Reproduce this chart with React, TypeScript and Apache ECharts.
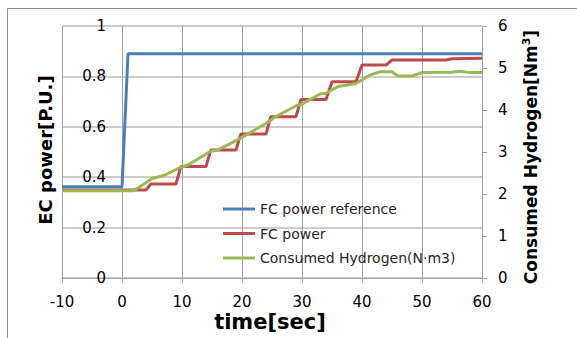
import React, { useEffect, useRef } from "react";
import * as echarts from "echarts";

// Time axis ticks
const xTicks = [-10, 0, 10, 20, 30, 40, 50, 60];

// FC power reference (left axis, P.U.)
const refTime = [-10, 0, 1, 60];
const refPower = [0.362, 0.362, 0.89, 0.89];

// FC power (left axis, P.U.)
const fcTime = [-10, 4, 4.8, 9, 9.8, 14, 14.8, 19, 19.8, 24, 24.8, 29, 29.8, 34, 35, 39, 40, 44, 45, 54, 55, 60];
const fcPower = [0.349, 0.349, 0.373, 0.373, 0.442, 0.442, 0.508, 0.508, 0.571, 0.571, 0.64, 0.64, 0.708, 0.708, 0.779, 0.779, 0.845, 0.845, 0.865, 0.865, 0.87, 0.872];

// Consumed hydrogen (right axis, Nm3)
const h2Time = [-10, 2, 5, 7, 10, 11, 14.7, 16, 19.4, 24, 25.5, 29, 30, 33, 34, 36, 39, 41.3, 43, 45, 46, 48.3, 50, 55, 56.3, 58, 60];
const h2Vol = [2.08, 2.08, 2.37, 2.44, 2.65, 2.69, 3.01, 3.05, 3.3, 3.68, 3.83, 4.1, 4.14, 4.38, 4.4, 4.56, 4.63, 4.83, 4.91, 4.91, 4.81, 4.81, 4.89, 4.9, 4.92, 4.89, 4.89];

const seriesNames = ["FC power reference", "FC power", "Consumed Hydrogen(N\u00b7m3)"];
const colors = ["#4A7EBB", "#BE4B48", "#98B954"];

const zip = (a: number[], b: number[]) => a.map((t, i) => [t, b[i]]);

export default function App() {
  const ref = useRef<HTMLDivElement>(null);
  useEffect(() => {
    if (!ref.current) return;
    const chart = echarts.init(ref.current, null, { renderer: "svg" });
    const font = "'DejaVu Sans', Verdana, sans-serif";
    const vGrid = { show: true, lineStyle: { color: "#A0A0A0", width: 1 } };
    const hGrid = { show: true, lineStyle: { color: "#CDCDCD", width: 2 } };
    chart.setOption({
      animation: false,
      backgroundColor: "#fff",
      textStyle: { fontFamily: font },
      grid: { left: 62, right: 95, top: 26, bottom: 60 },
      legend: {
        orient: "vertical",
        left: 223,
        top: 202,
        padding: 0,
        itemWidth: 32,
        itemHeight: 3,
        itemGap: 10.5,
        icon: "rect",
        textStyle: { fontFamily: font, fontSize: 14, color: "#262626" },
        data: seriesNames,
      },
      xAxis: {
        type: "value",
        min: -10,
        max: 60,
        interval: 10,
        axisLine: { show: true, onZero: false, lineStyle: { color: "#A0A0A0" } },
        axisTick: { show: true, length: 5, lineStyle: { color: "#A0A0A0" } },
        axisLabel: { fontFamily: font, fontSize: 15, color: "#000", margin: 16, customValues: xTicks },
        splitLine: vGrid,
      },
      yAxis: [
        {
          type: "value",
          min: 0,
          max: 1,
          interval: 0.2,
          offset: -60,
          axisLine: { show: true, onZero: false, lineStyle: { color: "#A0A0A0" } },
          axisTick: { show: false },
          axisLabel: { fontFamily: font, fontSize: 15, color: "#000", margin: 16 },
          splitLine: hGrid,
        },
        {
          type: "value",
          min: 0,
          max: 6,
          interval: 1,
          position: "right",
          axisLine: { show: true, onZero: false, lineStyle: { color: "#A0A0A0" } },
          axisTick: { show: true, length: 5, lineStyle: { color: "#A0A0A0" } },
          axisLabel: { fontFamily: font, fontSize: 15, color: "#000", margin: 16 },
          splitLine: { show: false },
        },
      ],
      series: [
        {
          name: seriesNames[0],
          type: "line",
          yAxisIndex: 0,
          showSymbol: false,
          symbol: "none",
          data: zip(refTime, refPower),
          lineStyle: { color: colors[0], width: 3 },
          itemStyle: { color: colors[0] },
        },
        {
          name: seriesNames[1],
          type: "line",
          yAxisIndex: 0,
          showSymbol: false,
          symbol: "none",
          data: zip(fcTime, fcPower),
          lineStyle: { color: colors[1], width: 3 },
          itemStyle: { color: colors[1] },
        },
        {
          name: seriesNames[2],
          type: "line",
          yAxisIndex: 1,
          showSymbol: false,
          symbol: "none",
          data: zip(h2Time, h2Vol),
          lineStyle: { color: colors[2], width: 3 },
          itemStyle: { color: colors[2] },
        },
      ],
      graphic: [
        {
          type: "rect",
          silent: true,
          shape: { x: 7.5, y: 8.5, width: 600, height: 400 },
          style: { fill: "none", stroke: "#8C8C8C", lineWidth: 1 },
        },
        {
          type: "text",
          x: 45,
          y: 150,
          rotation: Math.PI / 2,
          style: {
            text: "EC power[P.U.]",
            fontFamily: font,
            fontSize: 18,
            fontWeight: "bold",
            fill: "#000",
            align: "center",
            verticalAlign: "middle",
          },
        },
        {
          type: "text",
          x: 531,
          y: 157,
          rotation: Math.PI / 2,
          style: {
            text: "{a|Consumed Hydrogen[Nm}{s|3}{a|]}",
            fontFamily: font,
            align: "center",
            verticalAlign: "middle",
            rich: {
              a: { fontFamily: font, fontSize: 17, fontWeight: "bold", fill: "#000", lineHeight: 20 },
              s: { fontFamily: font, fontSize: 11, fontWeight: "bold", fill: "#000", lineHeight: 20, verticalAlign: "top" },
            },
          },
        },
        {
          type: "text",
          x: 270,
          y: 322,
          style: {
            text: "time[sec]",
            fontFamily: font,
            fontSize: 21,
            fontWeight: "bold",
            fill: "#000",
            align: "center",
            verticalAlign: "middle",
          },
        },
      ],
    });
    return () => chart.dispose();
  }, []);
  return (
    <div
      ref={ref}
      style={{ position: "fixed", left: 0, top: 0, width: 577, height: 338, background: "#fff" }}
    />
  );
}
